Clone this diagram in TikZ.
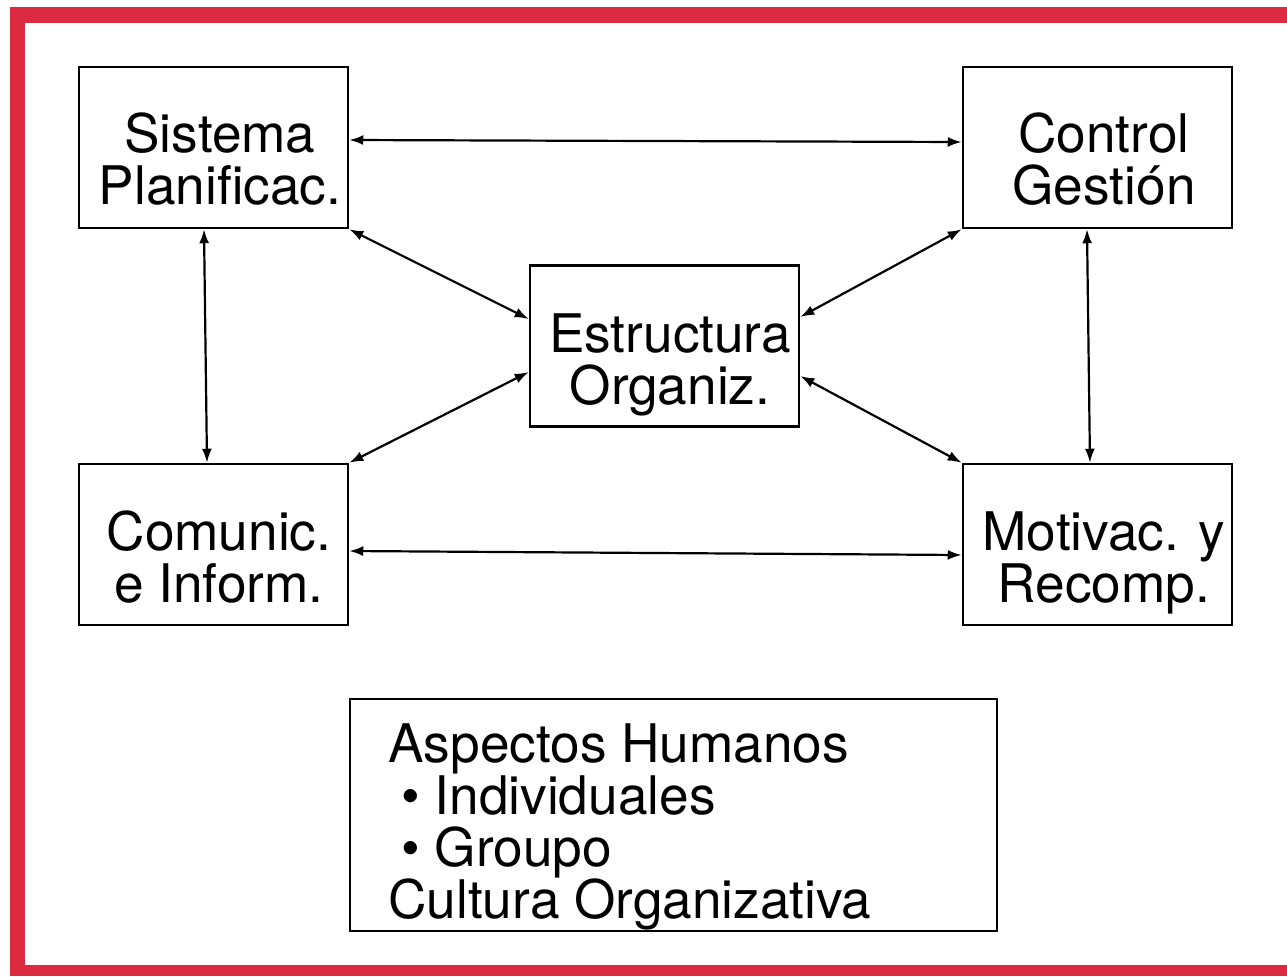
\documentclass[tikz,border=0pt]{standalone}
\usepackage{fontspec}
\setmainfont{TeX Gyre Heros}
\usetikzlibrary{arrows.meta,calc}
\definecolor{framered}{RGB}{220,42,64}
\begin{document}
\begin{tikzpicture}[x=0.5pt,y=-0.5pt,
  box/.style={draw=black,line width=1.25pt,minimum width=134.5pt,minimum height=80.5pt,inner sep=0pt},
  lbl/.style={font=\fontsize{26.6}{26}\selectfont,align=center,inner sep=0pt,anchor=base},
  conn/.style={line width=1.1pt,{Latex[length=7pt,width=5pt]}-{Latex[length=7pt,width=5pt]}}]
\useasboundingbox (0,0) rectangle (1287,976);
\fill[framered] (10,7) rectangle (1287,976);
\fill[white] (25,23) rectangle (1287,965);
% boxes
\node[box] (sp) at (213.5,147.5) {};
\node[box] (cg) at (1097.5,147.5) {};
\node[box] (eo) at (664.5,346) {};
\node[box] (ci) at (213.5,544.5) {};
\node[box] (mr) at (1097.5,544.5) {};
\node[box,minimum width=323.5pt,minimum height=116pt] (ah) at (673.5,815) {};
% labels (anchor = baseline of the last line)
\node[lbl] (spt) at (220,204) {Sistema\\Planificac.};
\node[lbl] (cgt) at (1104,204) {Control\\Gestión};
\node[lbl] (eot) at (670,404) {Estructura\\Organiz.};
\node[lbl] (cit) at (219,602) {Comunic.\\e Inform.};
\node[lbl] (mrt) at (1104,602) {Motivac. y\\Recomp.};
\node[lbl,align=left,anchor=base west] (aht) at (388,918) {Aspectos Humanos\\\hspace*{6.5pt}\textbullet\ Individuales\\\hspace*{6.5pt}\textbullet\ Groupo\\Cultura Organizativa};
% connectors
\draw[conn] ([yshift=3.75pt]sp.east) -- ([yshift=2.75pt]cg.west);
\draw[conn] ([yshift=-3.25pt]ci.east) -- ([yshift=-5.25pt]mr.west);
\draw[conn] ([xshift=-4.75pt]sp.south) -- ([xshift=-3.25pt]ci.north);
\draw[conn] ([xshift=-5.25pt]cg.south) -- ([xshift=-3.75pt]mr.north);
\draw[conn] (sp.south east) -- ([yshift=13.5pt]eo.west);
\draw[conn] (cg.south west) -- ([yshift=14.5pt]eo.east);
\draw[conn] (ci.north east) -- ([yshift=-13pt]eo.west);
\draw[conn] (mr.north west) -- ([yshift=-15pt]eo.east);
\end{tikzpicture}
\end{document}
